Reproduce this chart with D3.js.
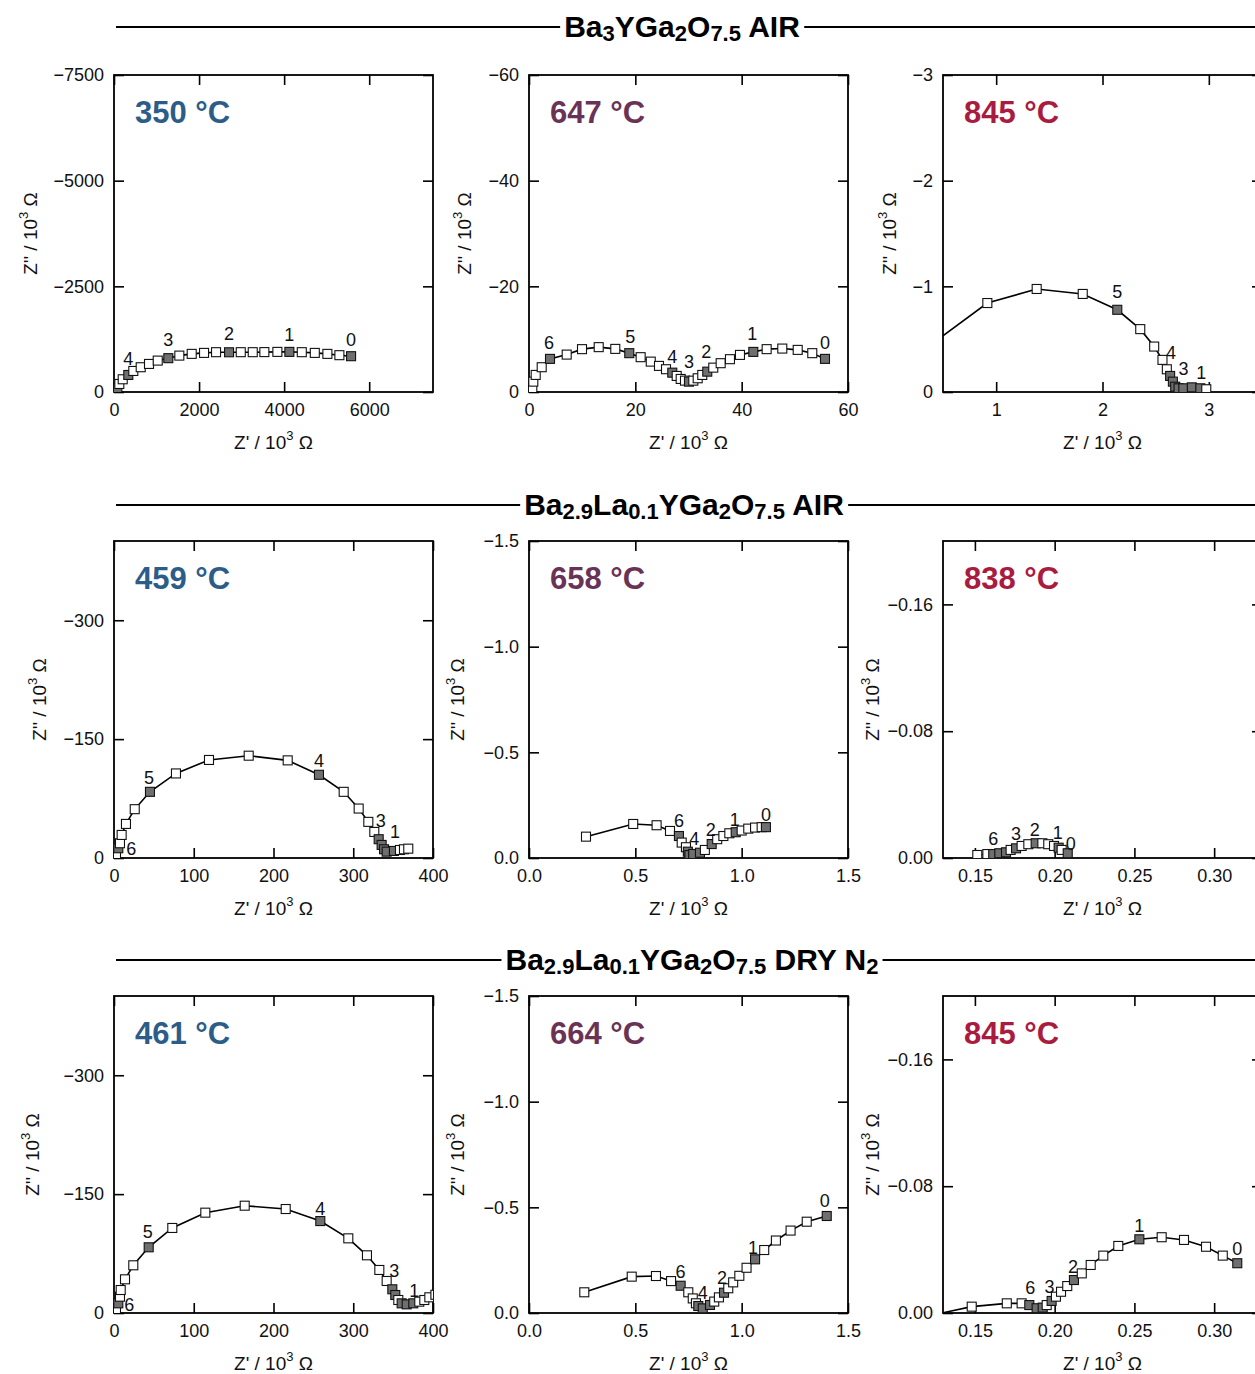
<!DOCTYPE html>
<html><head><meta charset="utf-8">
<script src="https://cdn.jsdelivr.net/npm/d3@7/dist/d3.min.js"></script>
<style>
body{margin:0;background:#fff;}
svg{display:block;font-family:"Liberation Sans",Arial,Helvetica,sans-serif;}
</style></head><body>
<svg id="c" width="1255" height="1374"></svg>
<script>
// ---------------- DATA ----------------
// Section titles: [text, isSubscript]
const title1 = [["Ba",0],["3",1],["YGa",0],["2",1],["O",0],["7.5",1],[" AIR",0]];
const title2 = [["Ba",0],["2.9",1],["La",0],["0.1",1],["YGa",0],["2",1],["O",0],["7.5",1],[" AIR",0]];
const title3 = [["Ba",0],["2.9",1],["La",0],["0.1",1],["YGa",0],["2",1],["O",0],["7.5",1],[" DRY N",0],["2",1]];

const temps = ["350 °C","647 °C","845 °C","459 °C","658 °C","838 °C","461 °C","664 °C","845 °C"];

// Panel 1: Ba3YGa2O7.5 air, 350 °C  (Z', Z'' in 10^3 ohm)
const re350 = [78,125,205,336,454,628,823,1028,1277,1536,1827,2117,2399,2705,2980,3262,3535,3841,4123,4415,4721,5017,5299,5574];
const im350 = [-88,-190,-301,-403,-498,-586,-664,-743,-800,-861,-902,-925,-942,-940,-942,-942,-944,-949,-949,-942,-925,-902,-871,-847];
const dec350 = ["",null,null,"4",null,null,null,null,"3",null,null,null,null,"2",null,null,null,null,"1",null,null,null,null,"0"];

// Panel 2: 647 °C
const re647 = [0.62,0.81,1.26,2.39,3.95,7.09,9.97,13.11,16.23,18.86,21.0,22.9,24.45,25.77,26.95,27.78,28.53,29.34,30.09,30.9,31.73,32.59,33.53,34.66,36.05,37.8,39.68,42.19,44.7,47.64,50.54,53.28,55.67];
const im647 = [-0.70,-1.96,-3.23,-4.69,-6.27,-7.08,-8.11,-8.49,-8.16,-7.35,-6.59,-5.75,-4.94,-4.31,-3.66,-3.04,-2.47,-2.15,-1.96,-2.15,-2.6,-3.23,-3.85,-4.61,-5.45,-6.21,-7.02,-7.59,-8.11,-8.22,-7.97,-7.35,-6.27];
const dec647 = [null,null,null,null,"6",null,null,null,null,"5",null,null,null,null,"4",null,null,null,"3",null,null,null,"2",null,null,null,null,"1",null,null,null,null,"0"];

// Panel 3: 845 °C air
const re845a = [0.35,0.917,1.381,1.814,2.139,2.355,2.486,2.564,2.605,2.636,2.662,2.684,2.715,2.76,2.84,2.92,2.976];
const im845a = [-0.42,-0.842,-0.975,-0.928,-0.778,-0.595,-0.430,-0.304,-0.215,-0.152,-0.098,-0.05,-0.035,-0.035,-0.044,-0.035,-0.026];
const dec845a = [null,null,null,null,"5",null,null,null,null,"4","","","3","","","1",null];

// Panel 4: Ba2.9La0.1YGa2O7.5 air, 459 °C
const re459 = [2.5,5.4,7.5,9.6,15,26,45.1,77.7,119.1,168.9,217.8,257,288,306.8,318.9,326.4,331.9,335.6,338.6,341.9,351,358.6,363.6,369];
const im459 = [-3.8,-12.3,-18.6,-29.1,-43,-61.6,-83.5,-106.7,-123.7,-129.1,-123.2,-105,-83.5,-62.4,-45.6,-32.9,-23.7,-16.5,-11,-8,-8.9,-10.1,-11,-11.8];
const dec459 = [null,"6",null,null,null,null,"5",null,null,null,null,"4",null,null,null,null,"3","","","","1",null,null,null];

// Panel 5: 658 °C
const re658 = [0.268,0.490,0.600,0.663,0.705,0.718,0.738,0.747,0.754,0.772,0.804,0.827,0.859,0.885,0.914,0.942,0.972,1.0,1.031,1.063,1.094,1.114];
const im658 = [-0.101,-0.161,-0.155,-0.128,-0.104,-0.073,-0.051,-0.030,-0.014,-0.019,-0.025,-0.038,-0.066,-0.089,-0.104,-0.117,-0.122,-0.130,-0.139,-0.144,-0.146,-0.146];
const dec658 = [null,null,null,null,"6",null,null,"","","4","",null,"2",null,null,null,"1",null,null,null,null,"0"];

// Panel 6: 838 °C
const re838 = [0.1515,0.1578,0.1615,0.1653,0.1695,0.1724,0.1758,0.1793,0.1835,0.1881,0.1923,0.196,0.1996,0.2025,0.2044,0.2082];
const im838 = [-0.0019,-0.0025,-0.0025,-0.003,-0.0036,-0.0051,-0.0061,-0.0076,-0.0087,-0.0093,-0.0093,-0.0087,-0.0076,-0.0065,-0.0051,-0.003];
const dec838 = [null,null,"6","","",null,"3",null,null,"2",null,null,null,"1",null,"0"];

// Panel 7: Ba2.9La0.1YGa2O7.5 dry N2, 461 °C
const re461 = [2.5,5.4,7.5,8.4,13.8,24.2,43.5,73.1,114.5,163.9,215.3,258.7,293.8,317.2,332.7,341.9,349,352.7,356.5,360.7,367,375.3,382.8,389.1,395.4,403];
const im461 = [-4.7,-12.2,-20.6,-29,-42.5,-60.2,-82.9,-107.3,-126.6,-135.4,-131.2,-116,-94.2,-72.8,-54.3,-40.4,-29.9,-22.7,-16.4,-12.2,-10.9,-12.2,-14.3,-16.4,-19.8,-23];
const dec461 = [null,"6",null,null,null,null,"5",null,null,null,null,"4",null,null,null,null,"3","",null,"","","1",null,null,null,null];

// Panel 8: 664 °C
const re664 = [0.26,0.483,0.597,0.668,0.713,0.749,0.770,0.785,0.796,0.817,0.851,0.871,0.893,0.917,0.937,0.960,0.989,1.023,1.063,1.106,1.161,1.230,1.306,1.400];
const im664 = [-0.098,-0.172,-0.175,-0.151,-0.129,-0.098,-0.069,-0.046,-0.033,-0.022,-0.038,-0.054,-0.074,-0.096,-0.117,-0.145,-0.176,-0.214,-0.254,-0.298,-0.343,-0.390,-0.432,-0.459];
const dec664 = [null,null,null,null,"6",null,null,null,"","4","",null,null,"2",null,null,null,null,"1",null,null,null,null,"0"];

// Panel 9: 845 °C dry N2
const re845n = [0.115,0.148,0.170,0.1793,0.1841,0.1887,0.1925,0.195,0.1981,0.2008,0.204,0.2079,0.2121,0.217,0.2226,0.2305,0.2399,0.2531,0.2671,0.2811,0.2949,0.3054,0.3145];
const im845n = [0.003,-0.004,-0.0061,-0.0061,-0.005,-0.003,-0.0034,-0.005,-0.0076,-0.0103,-0.0134,-0.017,-0.0208,-0.025,-0.0303,-0.0362,-0.0423,-0.0465,-0.0478,-0.0461,-0.0418,-0.0362,-0.0314];
const dec845n = [null,null,null,null,"6","","",null,"3",null,null,null,"2",null,null,null,null,"1",null,null,null,null,"0"];

// Axis tick values
const xt1 = [0,2000,4000,6000], yt1 = [0,-2500,-5000,-7500];
const xt2 = [0,20,40,60],       yt2 = [0,-20,-40,-60];
const xt3 = [1,2,3],            yt3 = [0,-1,-2,-3];
const xt4 = [0,100,200,300,400], yt4 = [0,-150,-300];
const xt5 = [0,0.5,1.0,1.5],    yt5 = [0,-0.5,-1.0,-1.5];
const xt6 = [0.15,0.20,0.25,0.30], yt6 = [0,-0.08,-0.16];

// ---------------- LAYOUT / STYLE ----------------
const W = 319, H = 317, TL = 10;
const colX = [114, 529, 943];
const rowY = [75, 541, 996];
const tempColors = ["#2b5d88", "#6a3356", "#a91b3f"];
const fmtD = d3.format("d"), fmt1 = d3.format(".1f"), fmt2 = d3.format(".2f");
const ylabX = [[37,471,896],[46,464,879],[39,464,879]];

// label offsets (px) per panel: label -> [dx, dy(baseline relative to marker centre)]
const offs = [
  {"4":[0,-10],"3":[0,-12],"2":[0,-12],"1":[0,-11],"0":[0,-10]},
  {"6":[-1,-10],"5":[1,-10],"4":[0,-10],"3":[0,-14],"2":[-1,-14],"1":[-1,-12],"0":[0,-10]},
  {"5":[0,-12],"4":[1,-17],"3":[5,-13],"1":[1,-9]},
  {"6":[13,7],"5":[-1,-8],"4":[0,-8],"3":[2,-12],"1":[1,-13]},
  {"6":[0,-9],"4":[1,-9],"2":[-1,-8],"1":[-1,-6],"0":[0,-6]},
  {"6":[0,-9],"3":[0,-8],"2":[-1,-7],"1":[-1,-9],"0":[3,-3]},
  {"6":[11,8],"5":[-1,-9],"4":[0,-6],"3":[2,-12],"1":[1,-6]},
  {"6":[0,-8],"4":[0,-9],"2":[-2,-9],"1":[-2,-5],"0":[-2,-9]},
  {"6":[1,-11],"3":[-2,-8],"2":[-1,-7],"1":[0,-7],"0":[0,-8]}
];

const panels = [
  {re:re350, im:im350, dec:dec350, xd:[0,7500], yd:[0,-7500], xt:xt1, yt:yt1, xf:fmtD, yf:fmtD},
  {re:re647, im:im647, dec:dec647, xd:[0,60], yd:[0,-60], xt:xt2, yt:yt2, xf:fmtD, yf:fmtD},
  {re:re845a, im:im845a, dec:dec845a, xd:[0.5,3.5], yd:[0,-3], xt:xt3, yt:yt3, xf:fmtD, yf:fmtD},
  {re:re459, im:im459, dec:dec459, xd:[0,400], yd:[0,-400], xt:xt4, yt:yt4, xf:fmtD, yf:fmtD},
  {re:re658, im:im658, dec:dec658, xd:[0,1.5], yd:[0,-1.5], xt:xt5, yt:yt5, xf:fmt1, yf:fmt1},
  {re:re838, im:im838, dec:dec838, xd:[0.13,0.33], yd:[0,-0.2], xt:xt6, yt:yt6, xf:fmt2, yf:fmt2},
  {re:re461, im:im461, dec:dec461, xd:[0,400], yd:[0,-400], xt:xt4, yt:yt4, xf:fmtD, yf:fmtD},
  {re:re664, im:im664, dec:dec664, xd:[0,1.5], yd:[0,-1.5], xt:xt5, yt:yt5, xf:fmt1, yf:fmt1},
  {re:re845n, im:im845n, dec:dec845n, xd:[0.13,0.33], yd:[0,-0.2], xt:xt6, yt:yt6, xf:fmt2, yf:fmt2}
];

const svg = d3.select("#c");
const defs = svg.append("defs");

// ---------------- SECTION TITLES ----------------
function drawTitle(segs, cx, y){
  const g = svg.append("g");
  const t = g.append("text").attr("x", cx).attr("y", y + 10).attr("text-anchor","middle")
    .attr("font-size", 30).attr("font-weight","bold").attr("fill","#000");
  let sub = false;
  segs.forEach(([s, isSub]) => {
    const ts = t.append("tspan").text(s);
    if (isSub && !sub) { ts.attr("dy", 4).attr("font-size", 22); sub = true; }
    else if (isSub) { ts.attr("font-size", 22); }
    else if (!isSub && sub) { ts.attr("dy", -4); sub = false; }
  });
  const bb = t.node().getBBox();
  g.append("line").attr("x1",116).attr("x2",bb.x-4).attr("y1",y).attr("y2",y).attr("stroke","#000").attr("stroke-width",2);
  g.append("line").attr("x1",bb.x+bb.width+4).attr("x2",1255).attr("y1",y).attr("y2",y).attr("stroke","#000").attr("stroke-width",2);
}
drawTitle(title1, 682, 27);
drawTitle(title2, 684, 505);
drawTitle(title3, 692, 960);

// ---------------- PANELS ----------------
panels.forEach((p, i) => {
  const r = Math.floor(i/3), c = i%3;
  const L = colX[c], T = rowY[r];
  const x = d3.scaleLinear().domain(p.xd).range([L, L+W]);
  const y = d3.scaleLinear().domain(p.yd).range([T+H, T]);
  const g = svg.append("g");

  const cid = "clip"+i;
  defs.append("clipPath").attr("id", cid).append("rect")
    .attr("x", L).attr("y", T).attr("width", W).attr("height", H);

  // axes with inward ticks
  const ax = [
    g.append("g").attr("transform",`translate(0,${T+H})`).call(d3.axisBottom(x).tickValues(p.xt).tickFormat(p.xf).tickSizeInner(-TL).tickSizeOuter(0).tickPadding(11)),
    g.append("g").attr("transform",`translate(${L},0)`).call(d3.axisLeft(y).tickValues(p.yt).tickFormat(p.yf).tickSizeInner(-TL).tickSizeOuter(0).tickPadding(10)),
    g.append("g").attr("transform",`translate(0,${T})`).call(d3.axisTop(x).tickValues(p.xt).tickFormat("").tickSizeInner(-TL).tickSizeOuter(0)),
    g.append("g").attr("transform",`translate(${L+W},0)`).call(d3.axisRight(y).tickValues(p.yt).tickFormat("").tickSizeInner(-TL).tickSizeOuter(0))
  ];
  ax.forEach(a => {
    a.attr("font-family", null).attr("font-size", null);
    a.select(".domain").remove();
    a.selectAll(".tick line").attr("stroke","#000").attr("stroke-width",1.6);
    a.selectAll(".tick text").attr("font-size",18).attr("fill","#111");
  });
  g.append("rect").attr("x",L).attr("y",T).attr("width",W).attr("height",H)
    .attr("fill","none").attr("stroke","#000").attr("stroke-width",1.8);

  // temperature
  g.append("text").attr("x", L + 21).attr("y", T + 48).attr("font-size", 31)
    .attr("font-weight","bold").attr("fill", tempColors[c]).text(temps[i]);

  // axis titles
  const xl = g.append("text").attr("x", L + W/2).attr("y", T + H + 57).attr("text-anchor","middle")
    .attr("font-size", 19).attr("fill","#111");
  xl.append("tspan").text("Z' / 10");
  xl.append("tspan").attr("dy",-9).attr("font-size",13).text("3");
  xl.append("tspan").attr("dy",9).text(" Ω");
  const yl = g.append("text").attr("transform",`translate(${ylabX[r][c]},${T+H/2}) rotate(-90)`)
    .attr("text-anchor","middle").attr("font-size", 19).attr("fill","#111");
  yl.append("tspan").text("Z'' / 10");
  yl.append("tspan").attr("dy",-9).attr("font-size",13).text("3");
  yl.append("tspan").attr("dy",9).text(" Ω");

  // data
  const pts = p.re.map((v, k) => ({x: v, y: p.im[k], d: p.dec[k]}));
  const dg = g.append("g").attr("clip-path", `url(#${cid})`);
  dg.append("path").datum(pts)
    .attr("d", d3.line().x(d => x(d.x)).y(d => y(d.y)))
    .attr("fill","none").attr("stroke","#000").attr("stroke-width",1.6);
  const s = 9;
  dg.selectAll("rect.m").data(pts).join("rect").attr("class","m")
    .attr("x", d => x(d.x) - s/2).attr("y", d => y(d.y) - s/2)
    .attr("width", s).attr("height", s)
    .attr("fill", d => d.d === null ? "#fff" : "#6f6f6f")
    .attr("stroke", "#111").attr("stroke-width", 1.1);
  g.selectAll("text.lab").data(pts.filter(d => d.d)).join("text").attr("class","lab")
    .attr("x", d => x(d.x) + (offs[i][d.d] || [0,-10])[0])
    .attr("y", d => y(d.y) + (offs[i][d.d] || [0,-10])[1])
    .attr("text-anchor","middle").attr("font-size",18).attr("fill","#111").text(d => d.d);
});
</script>
</body></html>
